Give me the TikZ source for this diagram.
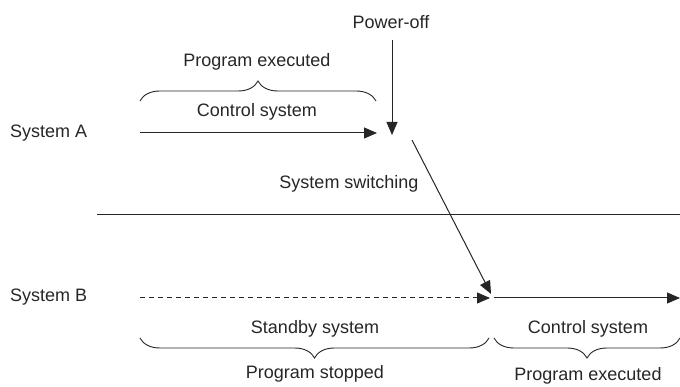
\documentclass[tikz,border=0pt]{standalone}
\usepackage{fontspec}
\setmainfont{Liberation Sans}
\usetikzlibrary{arrows.meta,decorations.pathreplacing}
\begin{document}
\begin{tikzpicture}[x=1pt,y=-1pt,
  lbl/.style={inner sep=0pt,font=\fontsize{18}{21}\selectfont,text=black!85},
  conn/.style={line width=1pt,black!85,-{Triangle[length=13pt,width=11pt]}},
  brc/.style={line width=0.9pt,black!85,decorate,decoration={brace,amplitude=20pt,aspect=0.5}}]
\useasboundingbox (0,0) rectangle (680,387);
% labels
\node[lbl,anchor=west] (sa) at (10,133) {System A};
\node[lbl,anchor=west] (sb) at (10,297) {System B};
\node[lbl] (poff) at (391,22) {Power-off};
\node[lbl] (pe1) at (257,62) {Program executed};
\node[lbl] (cs1) at (257,112) {Control system};
\node[lbl] (sw) at (349,184) {System switching};
\node[lbl] (stby) at (315,329) {Standby system};
\node[lbl] (pst) at (315,374) {Program stopped};
\node[lbl] (cs2) at (588,329) {Control system};
\node[lbl] (pe2) at (588,376) {Program executed};
% coordinates
\coordinate (a0) at (140,133);
\coordinate (a1) at (377,133);
\coordinate (p0) at (392,40);
\coordinate (p1) at (392,135);
\coordinate (d0) at (412,140);
\coordinate (d1) at (491,294);
\coordinate (b0) at (140,298);
\coordinate (b1) at (490,298);
\coordinate (c0) at (494,298);
\coordinate (c1) at (680,298);
\coordinate (h0) at (97,215);
\coordinate (h1) at (680,215);
% connectors
\draw[conn] (a0) -- (a1);
\draw[conn] (p0) -- (p1);
\draw[conn] (d0) -- (d1);
\draw[conn,dash pattern=on 5pt off 4pt] (b0) -- (b1);
\draw[conn] (c0) -- (c1);
\draw[line width=1pt,black!85] (h0) -- (h1);
% braces
\coordinate (t0) at (140,101);
\coordinate (t1) at (376,101);
\draw[brc] (t0) -- (t1);
\coordinate (s0) at (489,338);
\coordinate (s1) at (140,338);
\draw[brc] (s0) -- (s1);
\coordinate (r0) at (680,338);
\coordinate (r1) at (494,338);
\draw[brc] (r0) -- (r1);
\end{tikzpicture}
\end{document}
